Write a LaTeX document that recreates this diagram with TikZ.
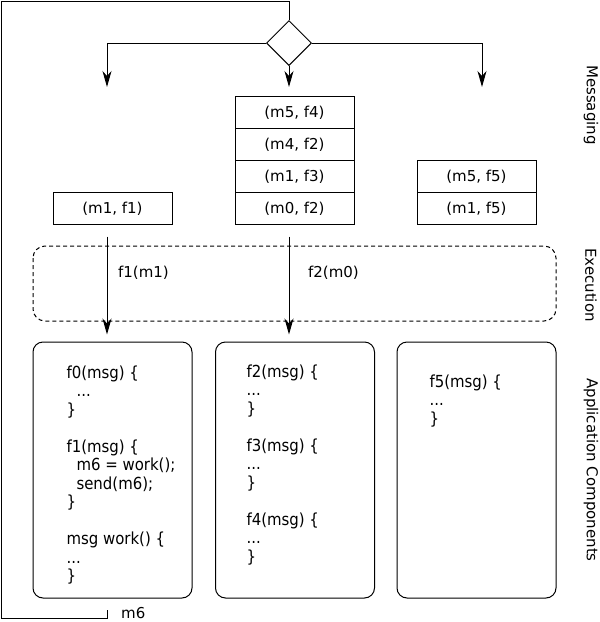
\documentclass[tikz,border=0pt]{standalone}
\usepackage{fontspec}
\setmainfont{DejaVu Sans}
\newfontfamily\codefont{DejaVu Sans}[FakeStretch=0.9]
\usetikzlibrary{arrows.meta,positioning,shapes.geometric}

\begin{document}
\begin{tikzpicture}[x=0.5pt,y=-0.5pt,>={Stealth[length=8pt,width=4.5pt,inset=2.5pt]},line width=0.5pt,
  font=\fontsize{7.5}{9}\selectfont,
  queuebox/.style={draw, minimum width=59.5pt, minimum height=16pt, inner sep=0pt, outer sep=0pt},
  compbox/.style={draw, rounded corners=5pt, minimum width=79.5pt, minimum height=128pt, inner sep=0pt},
  codetext/.style={anchor=north west, align=left, inner sep=0pt, font=\codefont\fontsize{8.3}{9.25}\selectfont},
  sidelabel/.style={rotate=-90}]

  \useasboundingbox (0,0) rectangle (600,622);

  % Dispatcher
  \node[draw, diamond, aspect=1, minimum size=22.5pt, inner sep=0pt] (sw) at (289,43) {};

  % Message queues
  \node[queuebox] (qa) at (112.5,208.5) {(m1, f1)};
  \node[queuebox] (qb4) at (294.5,208.5) {(m0, f2)};
  \node[queuebox, above=0pt of qb4] (qb3) {(m1, f3)};
  \node[queuebox, above=0pt of qb3] (qb2) {(m4, f2)};
  \node[queuebox, above=0pt of qb2] (qb1) {(m5, f4)};
  \node[queuebox] (qc2) at (476.5,208.5) {(m1, f5)};
  \node[queuebox, above=0pt of qc2] (qc1) {(m5, f5)};

  % Queue inputs
  \coordinate (inA) at (107,87);
  \coordinate (inB) at (289,87);
  \coordinate (inC) at (482,87);
  \draw[->] (sw.west) -| (inA);
  \draw[->] (sw.south) -- (inB);
  \draw[->] (sw.east) -| (inC);

  % Execution layer
  \draw[dashed, dash pattern=on 2pt off 1.5pt, rounded corners=6pt] (33,246) rectangle (556,321);

  % Application components
  \node[compbox] (compA) at (112.5,470) {};
  \node[compbox] (compB) at (295,470) {};
  \node[compbox] (compC) at (476.5,470) {};

  \node[codetext] (codeA) at (66,365) {f0(msg) \{\\
    \hspace*{5pt}...\\
    \}\\[9.25pt]
    f1(msg) \{\\
    \hspace*{5pt}m6 = work();\\
    \hspace*{5pt}send(m6);\\
    \}\\[9.25pt]
    msg work() \{\\
    ...\\
    \}};
  \node[codetext] (codeB) at (246,364) {f2(msg) \{\\
    ...\\
    \}\\[9.25pt]
    f3(msg) \{\\
    ...\\
    \}\\[9.25pt]
    f4(msg) \{\\
    ...\\
    \}};
  \node[codetext] (codeC) at (429,374) {f5(msg) \{\\
    ...\\
    \}};

  % Dispatch into components
  \draw[->, shorten >=3.5pt] ([yshift=-6pt]inA |- qa.south) -- (inA |- compA.north)
    node[pos=0.35, right=2pt] {f1(m1)};
  \draw[->, shorten >=3.5pt] ([yshift=-6pt]inB |- qb4.south) -- (inB |- compB.north)
    node[pos=0.35, right=6pt] {f2(m0)};

  % Outgoing message loops back
  \coordinate (loopTL) at (1,1);
  \coordinate (loopBL) at (1,618);
  \coordinate (loopEnd) at (107,610);
  \draw (sw.north) |- (loopTL) -- (loopBL) -| (loopEnd);
  \node[anchor=west] (m6) at (114,613) {m6};

  % Layer labels
  \node[sidelabel] (lblMsg) at (591,105) {Messaging};
  \node[sidelabel] (lblExec) at (591,285) {Execution};
  \node[sidelabel] (lblApp) at (591,470) {Application Components};

\end{tikzpicture}
\end{document}
